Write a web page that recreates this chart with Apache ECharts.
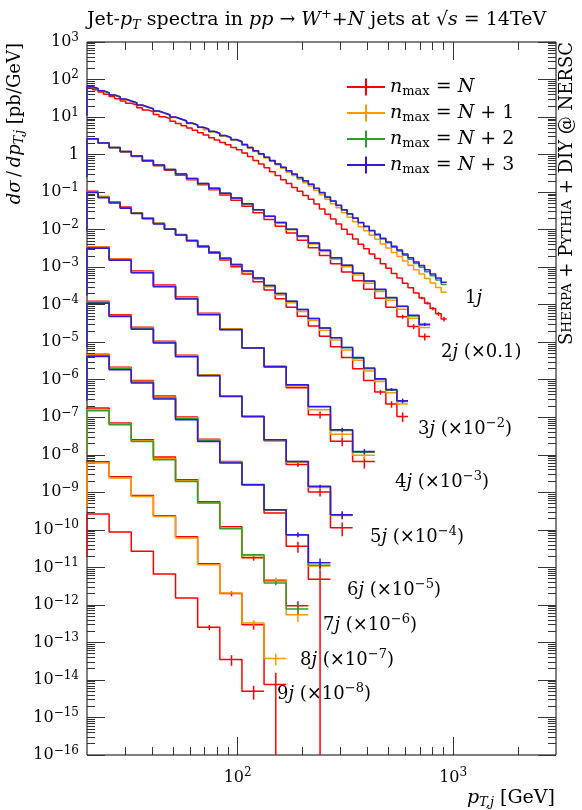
<!DOCTYPE html>
<html><head><meta charset="utf-8">
<script src="https://cdn.jsdelivr.net/npm/echarts@6/dist/echarts.min.js"></script>
<style>html,body{margin:0;padding:0;background:#fff}#c{width:582px;height:810px}</style>
</head><body><div id="c"></div>
<script>
// ---------- bin edges (GeV); first bin [15,20] lies below the axis start ----------
const EDGES_FINE = [15, 20, 21.22, 22.51, 23.88, 25.33, 26.88, 28.51, 30.25, 32.09, 34.05, 36.12, 38.32, 40.65, 43.13, 45.75, 48.54, 51.50, 54.64, 57.96, 61.50, 65.24, 69.22, 73.43, 77.91, 82.65, 87.69, 93.03, 98.69, 104.7, 111.1, 117.8, 125.0, 132.6, 140.7, 149.3, 158.4, 168.0, 178.3, 189.1, 200.6, 212.8, 225.8, 239.6, 254.2, 269.6, 286.1, 303.5, 322.0, 341.6, 362.4, 384.5, 407.9, 432.7, 459.1, 487.1, 516.8, 548.3, 581.7, 617.1, 654.7, 694.6, 736.9, 781.8, 829.5, 880.0, 933.6];
const EDGES_MED = [15, 20, 22.51, 25.33, 28.51, 32.09, 36.12, 40.65, 45.75, 51.50, 57.96, 65.24, 73.43, 82.65, 93.03, 104.7, 117.8, 132.6, 149.3, 168.0, 189.1, 212.8, 239.6, 269.6, 303.5, 341.6, 384.5, 432.7, 487.1, 548.3, 617.1, 694.6, 781.8];
const EDGES_COARSE = [15, 20, 25.33, 32.09, 40.65, 51.50, 65.24, 82.65, 104.7, 132.6, 168.0, 212.8, 269.6, 341.6, 432.7];

// ---------- plotted values (pb/GeV, already scaled); N = n_max=N, N1 = N+1, ... ----------
const J1_N  = [1.14e1, 6.17e1,5.37e1,4.68e1,4.07e1,3.55e1,3.09e1,2.69e1,2.34e1,2.09e1,1.78e1,1.55e1,1.38e1,1.17e1,1.02e1,9.12,7.76, 6.76,5.89,5.13,4.47,3.80,3.31,2.82,2.45,2.09,1.82,1.55,1.35, 1.10,8.91e-1,6.92e-1,5.62e-1,4.47e-1,3.47e-1,2.75e-1,2.14e-1,1.70e-1,1.32e-1,1.05e-1,8.13e-2,6.46e-2, 4.79e-2,3.55e-2,2.57e-2,1.91e-2,1.41e-2,1.02e-2,7.59e-3,5.62e-3,4.07e-3, 3.09e-3,2.24e-3,1.70e-3,1.23e-3,9.33e-4,6.76e-4,5.13e-4,3.72e-4,2.82e-4,2.04e-4,1.51e-4,1.10e-4,7.94e-5,5.75e-5,4.17e-5];
const J1_N1 = [1.14e1, 6.31e1,5.62e1,4.90e1,4.37e1,3.80e1,3.39e1,2.95e1,2.63e1,2.34e1,2.04e1,1.82e1,1.62e1,1.41e1,1.26e1,1.12e1,9.77,8.71,7.76,6.76,6.03,5.25, 4.57,3.98,3.55,3.09,2.75,2.40,2.14,1.78,1.48,1.20,1.00,8.13e-1,6.61e-1,5.37e-1,4.37e-1, 3.39e-1,2.75e-1,2.19e-1,1.78e-1,1.45e-1,1.10e-1,8.51e-2,6.46e-2,4.90e-2,3.80e-2, 2.82e-2,2.14e-2,1.62e-2,1.20e-2,9.33e-3,7.08e-3,5.50e-3,4.17e-3,3.24e-3,2.45e-3,1.91e-3,1.45e-3,1.12e-3,8.51e-4,6.61e-4,5.01e-4,3.80e-4,2.88e-4,2.14e-4];
const J1_N2 = [1.14e1, 6.40e1,5.70e1,4.97e1,4.43e1,3.86e1,3.44e1,3.00e1,2.67e1,2.38e1,2.07e1,1.85e1,1.65e1,1.44e1,1.28e1,1.14e1,9.95, 8.85,7.89,6.88,6.13,5.34,4.76,4.15,3.70,3.22,2.86,2.49,2.22, 1.85,1.54,1.25,1.04,8.45e-1,6.87e-1,5.58e-1,4.54e-1,3.69e-1,3.00e-1,2.43e-1,1.98e-1,1.61e-1, 1.25e-1,9.68e-2,7.34e-2,5.69e-2,4.42e-2,3.35e-2,2.60e-2,2.01e-2,1.53e-2, 1.20e-2,9.33e-3,7.24e-3,5.62e-3,4.47e-3,3.39e-3,2.69e-3,2.09e-3,1.62e-3,1.26e-3,1.00e-3,7.59e-4,5.89e-4,4.57e-4,3.47e-4];
const J1_N3 = [1.14e1, 6.46e1,5.75e1,5.01e1,4.47e1,3.89e1,3.47e1,3.02e1,2.69e1,2.40e1,2.09e1,1.86e1,1.66e1,1.45e1,1.29e1,1.15e1,1.00e1, 8.91,7.94,6.92,6.17,5.37,4.79,4.17,3.72,3.24,2.88,2.51,2.24, 1.86,1.55,1.26,1.05,8.51e-1,6.92e-1,5.62e-1,4.57e-1,3.72e-1,3.02e-1,2.45e-1,2.00e-1,1.62e-1, 1.26e-1,9.77e-2,7.41e-2,5.75e-2,4.47e-2,3.39e-2,2.63e-2,2.04e-2,1.55e-2, 1.23e-2,9.55e-3,7.59e-3,5.89e-3,4.68e-3,3.63e-3,2.88e-3,2.24e-3,1.78e-3,1.38e-3,1.10e-3,8.51e-4,6.61e-4,5.13e-4,3.98e-4];

const J2_N  = [2.6e-1, 2.63,2.04,1.51,1.17,8.91e-1,6.61e-1,5.01e-1,3.80e-1,2.82e-1,2.14e-1,1.58e-1,1.15e-1,8.32e-2,6.03e-2,4.17e-2,2.82e-2,1.86e-2,1.23e-2,8.13e-3,5.25e-3,3.31e-3,2.04e-3,1.23e-3,7.41e-4,4.37e-4,2.57e-4,1.48e-4,8.51e-5,4.79e-5,2.63e-5,1.41e-5];
const J2_N1 = [2.6e-1, 2.63,2.04,1.55,1.20,9.12e-1,6.92e-1,5.25e-1,3.98e-1,2.95e-1,2.24e-1,1.66e-1,1.23e-1,9.12e-2,6.76e-2,4.79e-2,3.31e-2,2.24e-2,1.51e-2,1.00e-2,6.46e-3,4.17e-3,2.63e-3,1.62e-3,1.02e-3,6.17e-4,3.72e-4,2.24e-4,1.32e-4,7.59e-5,4.37e-5,2.45e-5];
const J2_N2 = [2.6e-1, 2.63,2.04,1.55,1.20,9.12e-1,6.92e-1,5.25e-1,3.98e-1,3.02e-1,2.29e-1,1.70e-1,1.26e-1,9.33e-2,6.92e-2,4.90e-2,3.39e-2,2.29e-2,1.55e-2,1.02e-2,6.76e-3,4.37e-3,2.82e-3,1.78e-3,1.12e-3,6.92e-4,4.27e-4,2.51e-4,1.51e-4,8.91e-5,5.01e-5,2.88e-5];
const J2_N3 = [2.6e-1, 2.63,2.04,1.55,1.20,9.12e-1,6.92e-1,5.25e-1,3.98e-1,3.02e-1,2.29e-1,1.70e-1,1.26e-1,9.33e-2,6.92e-2,4.90e-2,3.39e-2,2.29e-2,1.55e-2,1.02e-2,6.76e-3,4.37e-3,2.82e-3,1.78e-3,1.12e-3,6.92e-4,4.27e-4,2.57e-4,1.55e-4,9.12e-5,5.25e-5,3.02e-5];

const J3_N  = [9.8e-3, 1.05e-1,7.59e-2,5.50e-2,3.98e-2,2.82e-2,2.04e-2,1.48e-2,1.05e-2,7.24e-3,5.01e-3,3.47e-3,2.34e-3,1.55e-3,1.02e-3,6.61e-4,4.07e-4,2.45e-4,1.45e-4,8.51e-5,4.90e-5,2.69e-5,1.45e-5,7.59e-6,3.89e-6,1.95e-6,9.55e-7,4.68e-7,2.24e-7,1.05e-7];
const J3_N1 = [9.8e-3, 1.02e-1,7.41e-2,5.37e-2,3.80e-2,2.75e-2,2.00e-2,1.45e-2,1.02e-2,7.24e-3,5.13e-3,3.63e-3,2.45e-3,1.70e-3,1.12e-3,7.59e-4,4.79e-4,3.02e-4,1.82e-4,1.12e-4,6.61e-5,3.80e-5,2.09e-5,1.15e-5,6.17e-6,3.31e-6,1.70e-6,8.91e-7,4.47e-7,2.24e-7];
const J3_N2 = [9.8e-3, 1.00e-1,7.24e-2,5.25e-2,3.80e-2,2.75e-2,2.00e-2,1.45e-2,1.05e-2,7.41e-3,5.13e-3,3.63e-3,2.51e-3,1.74e-3,1.17e-3,7.94e-4,5.13e-4,3.24e-4,2.00e-4,1.23e-4,7.41e-5,4.27e-5,2.40e-5,1.32e-5,7.24e-6,3.72e-6,1.95e-6,1.02e-6,5.25e-7,2.63e-7];
const J3_N3 = [9.8e-3, 9.77e-2,7.08e-2,5.13e-2,3.72e-2,2.69e-2,1.95e-2,1.41e-2,1.02e-2,7.24e-3,5.13e-3,3.63e-3,2.51e-3,1.74e-3,1.17e-3,7.94e-4,5.13e-4,3.24e-4,2.00e-4,1.23e-4,7.41e-5,4.27e-5,2.40e-5,1.32e-5,7.24e-6,3.89e-6,2.04e-6,1.07e-6,5.50e-7,2.75e-7];

const J4_N  = [1.8e-4, 3.52e-3,1.66e-3,7.91e-4,3.35e-4,1.61e-4,5.89e-5,2.29e-5,7.13e-6,2.15e-6,6.11e-7,1.17e-7,2.28e-8,6.59e-9];
const J4_N1 = [1.8e-4, 3.44e-3,1.63e-3,7.55e-4,3.20e-4,1.54e-4,5.75e-5,2.24e-5,7.13e-6,2.25e-6,6.86e-7,1.58e-7,3.52e-8,9.75e-9];
const J4_N2 = [1.8e-4, 3.31e-3,1.58e-3,7.24e-4,3.09e-4,1.46e-4,5.56e-5,2.19e-5,7.08e-6,2.26e-6,7.24e-7,1.91e-7,4.47e-8,1.17e-8];
const J4_N3 = [1.8e-4, 3.21e-3,1.52e-3,7.05e-4,2.99e-4,1.41e-4,5.37e-5,2.14e-5,6.97e-6,2.25e-6,7.35e-7,1.94e-7,4.65e-8,1.23e-8];

const J5_N  = [7.6e-6, 1.23e-4,5.42e-5,2.51e-5,1.06e-5,4.48e-6,1.36e-6,3.75e-7,1.05e-7,2.35e-8,5.53e-9,1.02e-9,1.13e-10];
const J5_N1 = [7.6e-6, 1.18e-4,5.18e-5,2.39e-5,1.01e-5,4.38e-6,1.33e-6,3.66e-7,1.05e-7,2.46e-8,6.35e-9,1.34e-9,2.42e-10];
const J5_N2 = [7.6e-6, 1.14e-4,5.00e-5,2.31e-5,9.79e-6,4.23e-6,1.30e-6,3.62e-7,1.05e-7,2.52e-8,6.65e-9,1.40e-9,2.47e-10];
const J5_N3 = [7.6e-6, 1.10e-4,4.83e-5,2.23e-5,9.46e-6,4.08e-6,1.27e-6,3.58e-7,1.05e-7,2.52e-8,6.65e-9,1.44e-9,2.53e-10];

const J6_N  = [2.9e-7, 4.78e-6,2.16e-6,9.57e-7,3.67e-7,1.01e-7,2.60e-8,6.61e-9,1.59e-9,2.80e-10,3.64e-11,4.84e-12];
const J6_N1 = [2.9e-7, 4.56e-6,2.07e-6,9.14e-7,3.43e-7,9.62e-8,2.48e-8,6.46e-9,1.63e-9,3.37e-10,7.43e-11,1.08e-11];
const J6_N2 = [2.9e-7, 4.36e-6,1.95e-6,8.73e-7,3.27e-7,9.18e-8,2.37e-8,6.31e-9,1.59e-9,3.37e-10,7.26e-11,1.14e-11];
const J6_N3 = [2.9e-7, 4.16e-6,1.84e-6,8.15e-7,3.05e-7,8.57e-8,2.26e-8,6.03e-9,1.59e-9,3.44e-10,7.43e-11,1.33e-11];

const J7_N  = [1.1e-8, 1.76e-7,7.02e-8,2.52e-8,8.71e-9,2.17e-9,5.62e-10,1.21e-10,1.81e-11,4.43e-12,9.55e-13];
const J7_N1 = [1.1e-8, 1.58e-7,6.52e-8,2.37e-8,7.85e-9,2.04e-9,5.28e-10,1.11e-10,2.05e-11,4.70e-12,5.50e-13];
const J7_N2 = [1.1e-8, 1.49e-7,6.31e-8,2.26e-8,7.38e-9,1.95e-9,5.19e-10,1.07e-10,2.18e-11,3.84e-12,7.80e-13];

const J8_N  = [4.2e-10, 6.53e-9,2.60e-9,8.28e-10,2.38e-10,6.58e-11,1.25e-11,2.00e-12,2.98e-13,7.52e-15];
const J8_N1 = [4.2e-10, 6.03e-9,2.40e-9,7.78e-10,2.28e-10,6.07e-11,1.18e-11,2.08e-12,3.30e-13,3.71e-14];

const J9_N  = [2.0e-11, 2.64e-10,8.77e-11,2.67e-11,6.67e-12,1.53e-12,2.52e-13,3.48e-14,4.99e-15];

// error bars: [multiplicity, n_max offset, array index, absolute error]
const ERRORS = [
  [1,0,61,1.2e-5],[1,0,62,1.0e-5],[1,0,63,8e-6],[1,0,64,7e-6],[1,0,65,6e-6],
  [2,0,29,6e-6],[2,0,30,4e-6],[2,0,31,3e-6],[2,3,31,3e-6],
  [3,0,27,7e-8],[3,0,28,4.5e-8],[3,0,29,3e-8],[3,3,28,5e-8],[3,3,29,4e-8],
  [4,0,11,2.5e-8],[4,0,12,6e-9],[4,0,13,2.3e-9],[4,1,12,6e-9],[4,1,13,2e-9],[4,3,12,6e-9],[4,3,13,2e-9],
  [5,0,10,8e-10],[5,0,11,2.5e-10],[5,0,12,4.5e-11],[5,1,12,5e-11],[5,3,11,1.5e-10],[5,3,12,6e-11],
  [6,0,10,1.2e-11],[6,0,11,5.3e-12],[6,1,10,1.3e-11],[6,1,11,2.5e-12],[6,2,11,2.5e-12],[6,3,10,1e-11],[6,3,11,4e-12],
  [7,0,8,3e-12],[7,0,9,6e-13],[7,0,10,3e-13],[7,1,9,7e-13],[7,1,10,2e-13],[7,2,9,5e-13],[7,2,10,2.2e-13],
  [8,0,7,3e-13],[8,0,8,8e-14],[8,0,9,8e-15],[8,1,8,5e-14],[8,1,9,1.3e-14],
  [9,0,6,4e-14],[9,0,7,1.1e-14],[9,0,8,2e-15]
];

const X_MAJOR = [100, 1000];
const X_MINOR = [30, 40, 50, 60, 70, 80, 90, 200, 300, 400, 500, 600, 700, 800, 900, 2000];
const Y_DECADES = [1e-16,1e-15,1e-14,1e-13,1e-12,1e-11,1e-10,1e-9,1e-8,1e-7,1e-6,1e-5,1e-4,1e-3,1e-2,1e-1,1,1e1,1e2,1e3];
const SERIES_NAMES = ['N', 'N+1', 'N+2', 'N+3'];
const MULT_LABELS = ['1j', '2j (×0.1)', '3j (×10^-2)', '4j (×10^-3)', '5j (×10^-4)', '6j (×10^-5)', '7j (×10^-6)', '8j (×10^-7)', '9j (×10^-8)'];

// ---------- presentation ----------
const COLORS = ['#ff0000', '#ff9900', '#2f9e2a', '#3514e6'];
const FONT = "'DejaVu Serif', 'Liberation Serif', serif";
const HISTS = [
  [EDGES_FINE,   [J1_N, J1_N1, J1_N2, J1_N3]],
  [EDGES_MED,    [J2_N, J2_N1, J2_N2, J2_N3]],
  [EDGES_MED,    [J3_N, J3_N1, J3_N2, J3_N3]],
  [EDGES_COARSE, [J4_N, J4_N1, J4_N2, J4_N3]],
  [EDGES_COARSE, [J5_N, J5_N1, J5_N2, J5_N3]],
  [EDGES_COARSE, [J6_N, J6_N1, J6_N2, J6_N3]],
  [EDGES_COARSE, [J7_N, J7_N1, J7_N2]],
  [EDGES_COARSE, [J8_N, J8_N1]],
  [EDGES_COARSE, [J9_N]]
];
const LABEL_POS = [[465,298],[441,352],[418,429],[395,482],[370,537],[347,590],[323,625],[300,660],[277,694]];
const Y_MIN = 1e-16, Y_MAX = 1e3;

const st = (size, italic, extra) => Object.assign({fontFamily: FONT, fontSize: size, fontStyle: italic ? 'italic' : 'normal', color: '#000', fill: '#000'}, extra || {});

function supText(str) {
  return str.replace(/^(\d)j/, '{r|$1}{i|j}')
    .replace(/ \(×10\^(-?\d+)\)/, (m, e) => '{r| (×10}{s|' + e.replace('-', '−') + '}{r|)}')
    .replace(/ \(×0\.1\)/, '{r| (×0.1)}');
}
const LABEL_RICH = {r: st(18, false, {lineHeight: 24}), i: st(18, true, {lineHeight: 24}), s: st(13, false, {lineHeight: 13, verticalAlign: 'top'})};

const AX_RICH = {b: st(16, false, {lineHeight: 21}), s: st(12, false, {lineHeight: 12, verticalAlign: 'top'})};
function expLabel(v) {
  const e = Math.round(Math.log10(v));
  if (e === 0) return '{b|1}';
  return '{b|10}{s|' + (e < 0 ? '−' + (-e) : e) + '}';
}
const Y_MINOR = [];
Y_DECADES.slice(0, -1).forEach(d => { for (let m = 2; m <= 9; m++) Y_MINOR.push(m * d); });

const tickStyle = {color: '#333', width: 1};
function xAx(pos, major, showLabel) {
  return {type: 'log', logBase: 10, min: 20, max: 3000, position: pos, gridIndex: 0,
    axisLine: {show: false, onZero: false}, splitLine: {show: false},
    axisTick: {show: true, inside: true, length: major ? 18 : 8, customValues: major ? X_MAJOR : X_MINOR, lineStyle: tickStyle},
    axisLabel: showLabel ? {show: true, customValues: X_MAJOR, formatter: expLabel, rich: AX_RICH, margin: 12} : {show: false}};
}
function yAx(pos, major, showLabel) {
  return {type: 'log', logBase: 10, min: Y_MIN, max: Y_MAX, position: pos, gridIndex: 0,
    axisLine: {show: false, onZero: false}, splitLine: {show: false},
    axisTick: {show: true, inside: true, length: major ? 18 : 8, customValues: major ? Y_DECADES : Y_MINOR, lineStyle: tickStyle},
    axisLabel: showLabel ? {show: true, customValues: Y_DECADES, formatter: expLabel, rich: AX_RICH, margin: 8} : {show: false}};
}

const series = [];
for (let c = 0; c < 4; c++) {
  HISTS.forEach(([edges, arrs]) => {
    const vals = arrs[c];
    if (!vals) return;
    const pts = vals.map((v, i) => [edges[i], v]);
    pts.push([edges[vals.length], vals[vals.length - 1]]);
    series.push({type: 'line', name: SERIES_NAMES[c], step: 'end', symbol: 'none', data: pts, clip: true,
      lineStyle: {color: COLORS[c], width: 1.5}, itemStyle: {color: COLORS[c]}, z: 2 + c, silent: true});
  });
  const errData = ERRORS.filter(e => e[1] === c).map(([m, cc, idx, err]) => {
    const [edges, arrs] = HISTS[m - 1];
    const v = arrs[cc][idx];
    const xc = (edges[idx] + edges[idx + 1]) / 2;
    const lo = v - err > Y_MIN ? v - err : Y_MIN;
    return [xc, lo, v + err];
  });
  series.push({type: 'custom', clip: true, z: 2 + c, silent: true, data: errData,
    encode: {x: 0, y: [1, 2]},
    renderItem: (params, api) => {
      const p1 = api.coord([api.value(0), api.value(1)]);
      const p2 = api.coord([api.value(0), api.value(2)]);
      return {type: 'line', shape: {x1: p1[0], y1: p1[1], x2: p2[0], y2: p2[1]}, style: {stroke: COLORS[c], lineWidth: 1.5}};
    }});
}

const PLUS = 'path://M0,7.5L38,7.5L38,9.5L0,9.5Z M18,0L20,0L20,17L18,17Z';
const LEGEND_TEXT = {
  'N': '{i|n}{sub|max}{r| = }{i|N}',
  'N+1': '{i|n}{sub|max}{r| = }{i|N}{r| + 1}',
  'N+2': '{i|n}{sub|max}{r| = }{i|N}{r| + 2}',
  'N+3': '{i|n}{sub|max}{r| = }{i|N}{r| + 3}'
};

const graphics = MULT_LABELS.map((t, k) => ({type: 'text', x: LABEL_POS[k][0], y: LABEL_POS[k][1], z: 100,
  style: {text: supText(t), rich: LABEL_RICH, font: '18px ' + FONT, fill: '#000', align: 'left', verticalAlign: 'middle'}}));
const AXT_RICH = {r: st(18, false, {lineHeight: 22}), i: st(18, true, {lineHeight: 22}), sub: st(12.5, true, {lineHeight: 13, verticalAlign: 'bottom'})};
graphics.push({type: 'text', x: 15, y: 43, rotation: Math.PI / 2, z: 100,
  style: {text: '{i|dσ}{r|\u2009/\u2009}{i|dp}{sub|T,j}{r| [pb/GeV]}', align: 'right', verticalAlign: 'middle', font: '18px ' + FONT, rich: AXT_RICH}});
graphics.push({type: 'text', x: 555, y: 798, z: 100,
  style: {text: '{i|p}{sub|T,j}{r| [GeV]}', align: 'right', verticalAlign: 'middle', font: '19px ' + FONT,
    rich: {r: st(19, false, {lineHeight: 22}), i: st(19, true, {lineHeight: 22}), sub: st(13, true, {lineHeight: 13, verticalAlign: 'bottom'})}}});
graphics.push({type: 'text', x: 567, y: 42, rotation: Math.PI / 2, z: 100,
  style: {text: '{r|S}{sc|HERPA}{r| + P}{sc|YTHIA}{r| + DIY @ NERSC}', align: 'right', verticalAlign: 'middle', font: '18px ' + FONT,
    rich: {r: st(18, false, {lineHeight: 22}), sc: st(13.5, false, {lineHeight: 22})}}});

const option = {
  animation: false,
  backgroundColor: '#fff',
  title: {
    text: '{r|Jet-}{i|p}{sub|T}{r| spectra in }{i|pp}{r| → }{i|W}{sup|+}{r|+}{i|N}{r| jets at √}{i|s}{r| = 14TeV}',
    left: 87, top: 8, padding: 0,
    textStyle: {fontFamily: FONT, fontSize: 19, fontWeight: 'normal', color: '#000',
      rich: {r: st(19, false, {lineHeight: 24}), i: st(19, true, {lineHeight: 24}),
        sub: st(13, true, {lineHeight: 13, verticalAlign: 'bottom'}), sup: st(13, false, {lineHeight: 13, verticalAlign: 'top'})}}
  },
  legend: {
    data: SERIES_NAMES.map(n => ({name: n, icon: PLUS})),
    orient: 'vertical', left: 347, top: 76, padding: 0, itemWidth: 38, itemHeight: 17, itemGap: 4, selectedMode: false,
    formatter: n => LEGEND_TEXT[n],
    textStyle: {fontFamily: FONT, fontSize: 19, color: '#000', lineHeight: 22,
      rich: {r: st(19, false, {lineHeight: 22}), i: st(19, true, {lineHeight: 22}), sub: st(13, false, {lineHeight: 13, verticalAlign: 'bottom'})}}
  },
  grid: {left: 87, top: 42, width: 469, height: 713, show: true, borderColor: '#000', borderWidth: 1, backgroundColor: 'transparent'},
  xAxis: [xAx('bottom', true, true), xAx('bottom', false, false), xAx('top', true, false), xAx('top', false, false)],
  yAxis: [yAx('left', true, true), yAx('left', false, false), yAx('right', true, false), yAx('right', false, false)],
  series: series,
  graphic: graphics
};
const chart = echarts.init(document.getElementById('c'), null, {width: 582, height: 810});
chart.setOption(option);
</script></body></html>
